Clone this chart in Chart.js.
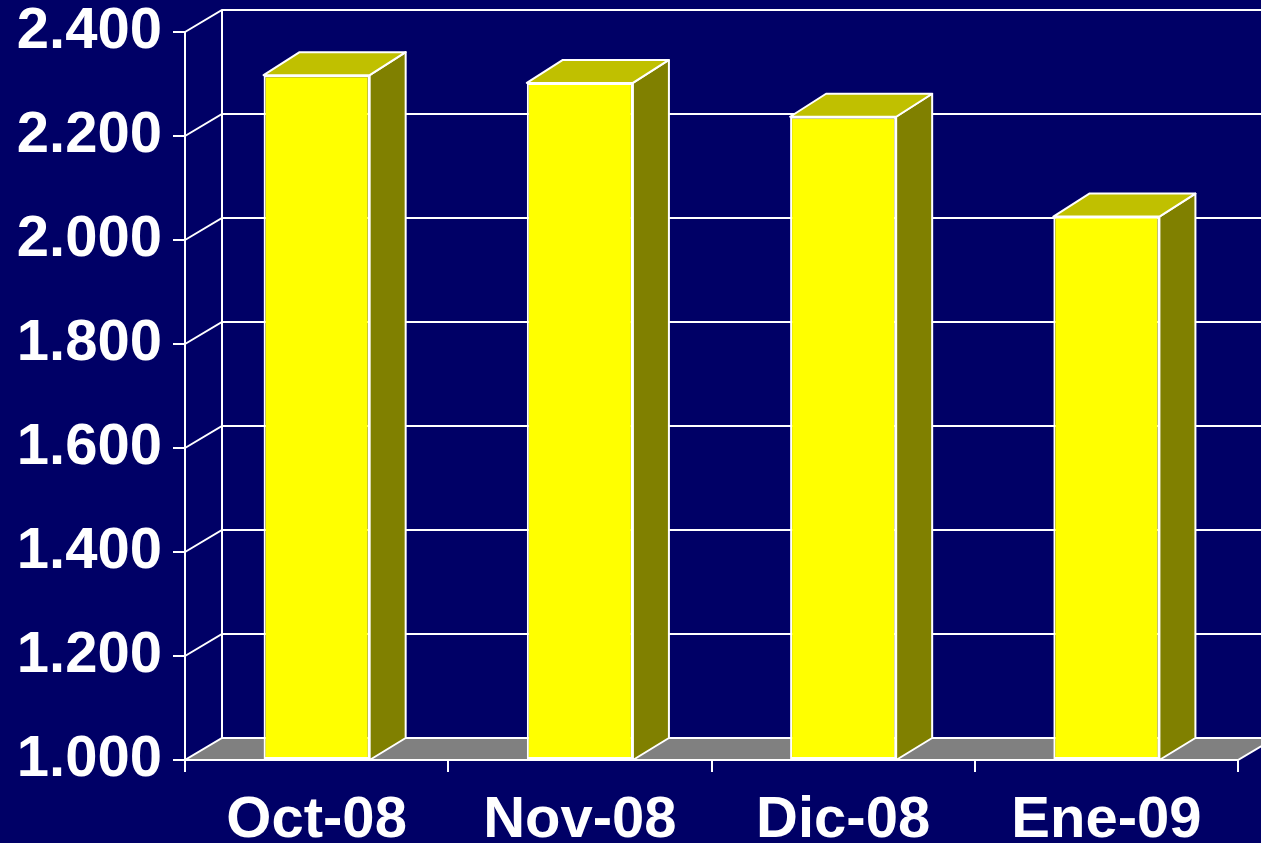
<!DOCTYPE html>
<html>
<head>
<meta charset="utf-8">
<script src="https://cdn.jsdelivr.net/npm/chart.js@4/dist/chart.umd.min.js"></script>
<style>
  body { margin: 0; background: #000066; }
  #wrap { width: 1261px; height: 843px; }
</style>
</head>
<body>
<div id="wrap"><canvas id="myChart" width="1261" height="843"></canvas></div>
<script>
const months = ["Oct-08", "Nov-08", "Dic-08", "Ene-09"];
const values = [2317, 2302, 2237, 2045];
const yMin = 1000;
const yMax = 2400;
const yStep = 200;

const WALL_DX = 37, WALL_DY = -22;
const BAR_DX = 36, BAR_DY = -23;

const fmt = (v) => String(v).replace(/\B(?=(\d{3})+(?!\d))/g, ".");

// back wall, side wall and floor, drawn behind the bars
const wall3d = {
  id: "wall3d",
  beforeDatasetsDraw(chart) {
    const { ctx, chartArea, scales } = chart;
    const y = scales.y;
    const L = chartArea.left, R = chartArea.right, B = chartArea.bottom;
    ctx.save();
    ctx.strokeStyle = "#ffffff";
    ctx.lineWidth = 2;
    // floor
    ctx.beginPath();
    ctx.moveTo(L, B);
    ctx.lineTo(R, B);
    ctx.lineTo(R + WALL_DX, B + WALL_DY);
    ctx.lineTo(L + WALL_DX, B + WALL_DY);
    ctx.closePath();
    ctx.fillStyle = "#808080";
    ctx.fill();
    ctx.stroke();
    // back wall vertical edge
    ctx.beginPath();
    ctx.moveTo(L + WALL_DX, y.getPixelForValue(yMax) + WALL_DY);
    ctx.lineTo(L + WALL_DX, B + WALL_DY);
    ctx.stroke();
    // gridlines on side wall and back wall
    y.ticks.forEach((t) => {
      if (t.value === yMin) return;
      const py = y.getPixelForValue(t.value);
      ctx.beginPath();
      ctx.moveTo(L, py);
      ctx.lineTo(L + WALL_DX, py + WALL_DY);
      ctx.lineTo(chart.width + 5, py + WALL_DY);
      ctx.stroke();
    });
    ctx.restore();
  },
  afterDatasetsDraw(chart) {
    const { ctx, chartArea } = chart;
    const meta = chart.getDatasetMeta(0);
    ctx.save();
    ctx.strokeStyle = "#ffffff";
    ctx.lineWidth = 2;
    ctx.lineJoin = "round";
    meta.data.forEach((bar) => {
      const { x, y, width } = bar.getProps(["x", "y", "width"], true);
      const base = chartArea.bottom;
      const l = x - width / 2, r = x + width / 2;
      // side face
      ctx.beginPath();
      ctx.moveTo(r, y);
      ctx.lineTo(r + BAR_DX, y + BAR_DY);
      ctx.lineTo(r + BAR_DX, base + WALL_DY);
      ctx.lineTo(r, base);
      ctx.closePath();
      ctx.fillStyle = "#808000";
      ctx.fill();
      ctx.stroke();
      // top face
      ctx.beginPath();
      ctx.moveTo(l, y);
      ctx.lineTo(r, y);
      ctx.lineTo(r + BAR_DX, y + BAR_DY);
      ctx.lineTo(l + BAR_DX, y + BAR_DY);
      ctx.closePath();
      ctx.fillStyle = "#c0c000";
      ctx.fill();
      ctx.stroke();
    });
    ctx.restore();
  },
};

new Chart(document.getElementById("myChart"), {
  type: "bar",
  data: {
    labels: months,
    datasets: [
      {
        data: values,
        base: yMin,
        backgroundColor: "#ffff00",
        borderColor: "#ffffff",
        borderWidth: 2,
        borderSkipped: false,
        barPercentage: 0.403,
        categoryPercentage: 1,
      },
    ],
  },
  options: {
    responsive: false,
    animation: false,
    layout: { padding: { top: 32, right: 23, left: 0, bottom: 0 } },
    plugins: { legend: { display: false }, tooltip: { enabled: false } },
    scales: {
      x: {
        afterFit: (s) => { s.height = 83; s.paddingLeft = 0; s.paddingRight = 0; },
        grid: { drawOnChartArea: false, color: "#ffffff", lineWidth: 2, tickLength: 12 },
        border: { color: "#ffffff", width: 2 },
        ticks: {
          color: "#ffffff",
          padding: 14,
          maxRotation: 0,
          font: { family: "'Liberation Sans', Arial, sans-serif", size: 58, weight: "bold" },
        },
      },
      y: {
        min: yMin,
        max: yMax,
        afterFit: (s) => { s.width = 185; s.paddingTop = 0; s.paddingBottom = 0; },
        grid: { drawOnChartArea: false, color: "#ffffff", lineWidth: 2, tickLength: 12 },
        border: { color: "#ffffff", width: 2 },
        ticks: {
          stepSize: yStep,
          color: "#ffffff",
          padding: 11,
          callback: (v) => fmt(v),
          font: { family: "'Liberation Sans', Arial, sans-serif", size: 58, weight: "bold" },
        },
      },
    },
  },
  plugins: [wall3d],
});
</script>
</body>
</html>
